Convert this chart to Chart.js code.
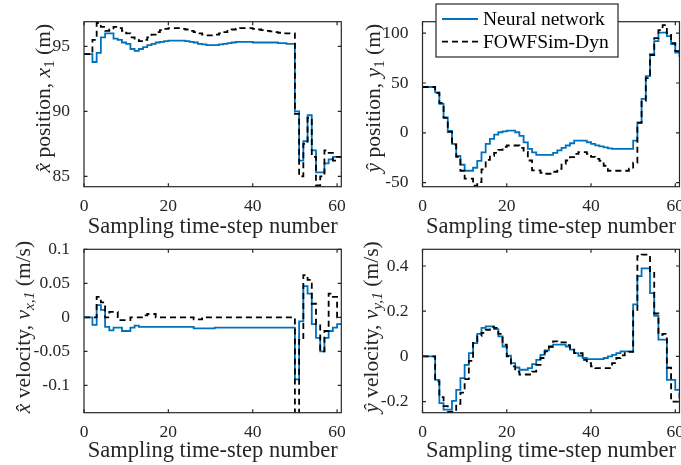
<!DOCTYPE html>
<html lang="en">
<head>
<meta charset="UTF-8">
<title>Neural network vs FOWFSim-Dyn</title>
<script src="https://cdn.jsdelivr.net/npm/chart.js"></script>
<style>
  body { margin: 0; background: #fff; }
  #wrap { position: relative; width: 681px; height: 465px; }
  #wrap canvas { position: absolute; }
</style>
</head>
<body>
<div id="wrap">
  <canvas id="xPos" width="345" height="240" style="left:0;top:0"></canvas>
  <canvas id="yPos" width="336" height="240" style="left:345px;top:0"></canvas>
  <canvas id="xVel" width="345" height="225" style="left:0;top:240px"></canvas>
  <canvas id="yVel" width="336" height="225" style="left:345px;top:240px"></canvas>
</div>
<script>
// sampling time steps
const timeSteps = [0,1,2,3,4,5,6,7,8,9,10,11,12,13,14,15,16,17,18,19,20,21,22,23,24,25,26,27,28,29,30,
  31,32,33,34,35,36,37,38,39,40,41,42,43,44,45,46,47,48,49,50,51,52,53,54,55,56,57,58,59,60,61];
const xTicks = [0, 20, 40, 60];

// x position (m)
const xPosNN = [94.4,94.4,93.8,94.5,95.7,96.0,96.0,95.6,95.5,95.3,
  95.2,94.8,94.65,94.8,94.95,95.1,95.2,95.3,95.35,95.4,
  95.45,95.45,95.45,95.45,95.4,95.35,95.3,95.2,95.15,95.1,
  95.1,95.1,95.15,95.2,95.25,95.3,95.35,95.35,95.35,95.35,
  95.3,95.3,95.3,95.3,95.3,95.3,95.25,95.25,95.2,95.2,
  90.0,86.2,87.7,89.7,87.0,85.3,85.3,86.0,86.3,86.5,86.5,86.5];
const xPosSim = [94.4,94.4,95.5,96.8,96.5,96.2,96.3,96.5,96.4,96.2,
  96.0,95.7,95.5,95.4,95.5,95.7,95.9,96.1,96.25,96.35,
  96.4,96.4,96.4,96.35,96.3,96.2,96.1,96.0,95.9,95.85,
  95.85,95.9,96.0,96.1,96.2,96.3,96.35,96.4,96.4,96.4,
  96.35,96.3,96.25,96.2,96.15,96.1,96.05,96.0,96.0,96.0,
  89.8,85.0,87.5,89.5,86.5,84.3,85.0,87.0,86.8,86.2,86.5,86.5];
const xPosTicks = [85, 90, 95];

// y position (m)
const yPosNN = [46,46,46,40.6,29,15.6,2,-11,-23,-32,
  -38,-38,-35,-28,-19.5,-11,-6,-1.7,0.6,1.5,
  2.3,2.3,0.6,-3,-9.5,-16,-19.5,-22,-22,-22,
  -22,-20,-17.6,-15,-12.7,-10.4,-7.7,-7.7,-7.7,-9.4,
  -11,-12.5,-13.5,-14.5,-15.5,-16,-16,-16,-16,-16,
  -7.7,10.6,34,57,79,92,100.6,100.6,97,89,80.6,76];
const yPosSim = [46,46,46,40,30,15,1,-12,-24,-38,
  -46,-46,-53,-49.4,-36.7,-27,-23,-20,-17,-14,
  -12.7,-12.7,-12.7,-15,-19,-27.7,-37.7,-37.7,-40,-41,
  -41,-39,-36,-31,-27.7,-24.4,-21,-19.4,-19.4,-21,
  -24,-26,-28,-33,-38,-38,-38,-38,-38,-36,
  -30,10,32,55,78,95,103,108,100,90,82,78];
const yPosTicks = [-50, 0, 50, 100];

// x velocity (m/s)
const xVelNN = [0,0,-0.011,0.018,0.011,-0.014,-0.019,-0.015,-0.015,-0.02,
  -0.02,-0.015,-0.012,-0.014,-0.014,-0.014,-0.014,-0.014,-0.014,-0.014,
  -0.014,-0.014,-0.014,-0.014,-0.014,-0.014,-0.016,-0.016,-0.016,-0.016,
  -0.016,-0.015,-0.015,-0.015,-0.015,-0.015,-0.015,-0.015,-0.015,-0.015,
  -0.015,-0.015,-0.015,-0.015,-0.015,-0.015,-0.015,-0.015,-0.015,-0.015,
  -0.091,-0.006,0.046,0.035,-0.01,-0.03,-0.05,-0.03,-0.02,-0.015,-0.01,-0.01];
const xVelSim = [0,0,0,0.03,0.022,0,0.008,0.008,-0.004,-0.004,
  -0.004,0,0,0,0.003,0.005,0.005,0,0,0,
  0,0,0,0,0,0,-0.003,-0.003,0,0,
  0,0,0,0,0,0,0,0,0,0,
  0,0,0,0,0,0,0,0,0,0,
  -0.15,-0.033,0.062,0.055,0.02,-0.01,-0.05,-0.02,0.035,0.03,0,0];
const xVelTicks = [-0.1, -0.05, 0, 0.05, 0.1];

// y velocity (m/s)
const yVelNN = [0,0,0,-0.104,-0.207,-0.235,-0.235,-0.197,-0.148,-0.096,
  -0.037,0.015,0.059,0.1,0.126,0.133,0.133,0.121,0.089,0.044,
  0.003,-0.03,-0.049,-0.059,-0.059,-0.052,-0.034,-0.015,0.007,0.027,
  0.041,0.052,0.052,0.052,0.044,0.03,0.015,0.003,-0.007,-0.012,
  -0.012,-0.012,-0.012,-0.007,0,0.007,0.015,0.022,0.022,0.022,
  0.23,0.355,0.39,0.39,0.28,0.18,0.074,0.074,-0.104,-0.104,-0.148,-0.148];
const yVelSim = [0,0,0,-0.11,-0.18,-0.22,-0.245,-0.245,-0.21,-0.16,
  -0.1,-0.02,0.06,0.09,0.104,0.118,0.13,0.126,0.1,0.052,
  0,-0.044,-0.067,-0.08,-0.08,-0.08,-0.067,-0.037,-0.007,0.022,
  0.044,0.067,0.062,0.062,0.05,0.037,0.015,0.015,-0.015,-0.03,
  -0.044,-0.052,-0.052,-0.052,-0.052,-0.03,-0.007,0.005,0.015,0.02,
  0.2,0.444,0.45,0.45,0.37,0.19,0.096,0.1,-0.05,-0.2,-0.2,-0.15];
const yVelTicks = [-0.2, 0, 0.2, 0.4];

const seriesNames = ['Neural network', 'FOWFSim-Dyn'];

const serif = '"Liberation Serif", "Times New Roman", serif';
const axisColor = '#262626';
const nnColor = '#0072BD';

Chart.defaults.font.family = serif;
Chart.defaults.color = axisColor;

const pairs = vals => timeSteps.map((t, i) => ({ x: t, y: vals[i] }));

// box around the axes with inward ticks on every side (MATLAB style)
const framePlugin = {
  id: 'frame',
  afterDraw(chart) {
    const { ctx, chartArea: a, scales } = chart;
    const tl = 3.5;
    ctx.save();
    ctx.strokeStyle = axisColor;
    ctx.lineWidth = 1.2;
    ctx.beginPath();
    scales.x.ticks.forEach(t => {
      const px = scales.x.getPixelForValue(t.value);
      ctx.moveTo(px, a.bottom); ctx.lineTo(px, a.bottom - tl);
      ctx.moveTo(px, a.top); ctx.lineTo(px, a.top + tl);
    });
    scales.y.ticks.forEach(t => {
      const py = scales.y.getPixelForValue(t.value);
      ctx.moveTo(a.left, py); ctx.lineTo(a.left + tl, py);
      ctx.moveTo(a.right, py); ctx.lineTo(a.right - tl, py);
    });
    ctx.stroke();
    ctx.strokeRect(a.left, a.top, a.right - a.left, a.bottom - a.top);
    ctx.restore();
  }
};

// y axis label with italic symbols and subscripts
function yTitlePlugin(parts, x, dy) {
  const size = 21.5;
  const fontFor = p => (p.i ? 'italic ' : '') + (p.s ? size * 0.72 : size) + 'px ' + serif;
  return {
    id: 'yTitle',
    afterDraw(chart) {
      const ctx = chart.ctx, a = chart.chartArea;
      ctx.save();
      const widths = parts.map(p => { ctx.font = fontFor(p); return ctx.measureText(p.t).width; });
      const total = widths.reduce((s, w) => s + w, 0);
      ctx.translate(x, (a.top + a.bottom) / 2 + dy);
      ctx.rotate(-Math.PI / 2);
      ctx.fillStyle = axisColor;
      ctx.textBaseline = 'alphabetic';
      let cx = -total / 2;
      parts.forEach((p, i) => {
        ctx.font = fontFor(p);
        ctx.fillText(p.t, cx, p.s ? size * 0.2 : 0);
        cx += widths[i];
      });
      ctx.restore();
    }
  };
}

const legendPlugin = {
  id: 'boxLegend',
  afterDraw(chart) {
    const ctx = chart.ctx;
    const bx = 91, by = 4, bw = 182, bh = 53;
    ctx.save();
    ctx.fillStyle = '#fff';
    ctx.fillRect(bx, by, bw, bh);
    ctx.strokeStyle = axisColor;
    ctx.lineWidth = 1.2;
    ctx.strokeRect(bx, by, bw, bh);
    chart.data.datasets.forEach((ds, i) => {
      const y = by + 15 + i * 22.7;
      ctx.beginPath();
      ctx.strokeStyle = ds.borderColor;
      ctx.lineWidth = ds.borderWidth;
      ctx.setLineDash(ds.borderDash || []);
      ctx.moveTo(bx + 6, y);
      ctx.lineTo(bx + 42, y);
      ctx.stroke();
      ctx.setLineDash([]);
      ctx.fillStyle = '#000';
      ctx.font = '19.5px ' + serif;
      ctx.textBaseline = 'middle';
      ctx.fillText(ds.label, bx + 47, y + 1);
    });
    ctx.restore();
  }
};

function buildChart(id, c) {
  return new Chart(document.getElementById(id), {
    type: 'line',
    data: {
      datasets: [
        { label: seriesNames[0], data: pairs(c.nn), borderColor: nnColor, borderWidth: 1.8,
          stepped: true, pointRadius: 0, fill: false, order: 1 },
        { label: seriesNames[1], data: pairs(c.sim), borderColor: '#000', borderWidth: 1.8,
          borderDash: [6, 4], stepped: true, pointRadius: 0, fill: false, order: 0 }
      ]
    },
    options: {
      responsive: false,
      animation: false,
      events: [],
      layout: { padding: c.pad },
      plugins: { legend: { display: false }, tooltip: { enabled: false } },
      scales: {
        x: {
          type: 'linear', min: 0, max: 61,
          grid: { display: false }, border: { display: false },
          afterBuildTicks: s => { s.ticks = xTicks.map(v => ({ value: v })); },
          afterFit: s => { s.height = c.axisH; s.paddingLeft = 0; s.paddingRight = 0; },
          ticks: { padding: 1, font: { size: 17.5 }, color: axisColor, maxRotation: 0, autoSkip: false,
                   callback: v => String(v) },
          title: { display: true, text: 'Sampling time-step number', font: { size: 22.5 }, color: axisColor,
                   padding: { top: 0, bottom: c.titlePad } }
        },
        y: {
          type: 'linear', min: c.yMin, max: c.yMax,
          grid: { display: false }, border: { display: false },
          afterBuildTicks: s => { s.ticks = c.yTicks.map(v => ({ value: v })); },
          afterFit: s => { s.width = c.axisW; s.paddingTop = 0; s.paddingBottom = 0; },
          ticks: { padding: 6, font: { size: 17.5 }, color: axisColor, autoSkip: false,
                   callback: v => String(v) }
        }
      }
    },
    plugins: [framePlugin, yTitlePlugin(c.title, c.titleX, c.titleDy)].concat(c.legend ? [legendPlugin] : [])
  });
}

buildChart('xPos', {
  nn: xPosNN, sim: xPosSim, yTicks: xPosTicks, yMin: 84.2, yMax: 96.9,
  pad: { left: 0, right: 3.7, top: 21.7, bottom: 0 }, axisW: 84, axisH: 53.3, titlePad: -1,
  title: [{ t: 'x\u0302', i: 1 }, { t: ' position, ' }, { t: 'x', i: 1 }, { t: '1', s: 1 }, { t: ' (m)' }],
  titleX: 50, titleDy: -6
});
buildChart('yPos', {
  nn: yPosNN, sim: yPosSim, yTicks: yPosTicks, yMin: -54, yMax: 111.5,
  pad: { left: 0, right: 1.5, top: 21.7, bottom: 0 }, axisW: 77.5, axisH: 53.3, titlePad: -1,
  title: [{ t: '\u0177', i: 1 }, { t: ' position, ' }, { t: 'y', i: 1 }, { t: '1', s: 1 }, { t: ' (m)' }],
  titleX: 35, titleDy: -6, legend: true
});
buildChart('xVel', {
  nn: xVelNN, sim: xVelSim, yTicks: xVelTicks, yMin: -0.14, yMax: 0.1,
  pad: { left: 0, right: 3.7, top: 9.3, bottom: 0 }, axisW: 84, axisH: 52.3, titlePad: 0,
  title: [{ t: 'x\u0302', i: 1 }, { t: ' velocity, ' }, { t: 'v', i: 1 }, { t: 'x,1', s: 1, i: 1 }, { t: ' (m/s)' }],
  titleX: 30, titleDy: -4
});
buildChart('yVel', {
  nn: yVelNN, sim: yVelSim, yTicks: yVelTicks, yMin: -0.249, yMax: 0.474,
  pad: { left: 0, right: 1.5, top: 9.3, bottom: 0 }, axisW: 77.5, axisH: 52.3, titlePad: 0,
  title: [{ t: '\u0177', i: 1 }, { t: ' velocity, ' }, { t: 'v', i: 1 }, { t: 'y,1', s: 1, i: 1 }, { t: ' (m/s)' }],
  titleX: 33, titleDy: -4
});
</script>
</body>
</html>
